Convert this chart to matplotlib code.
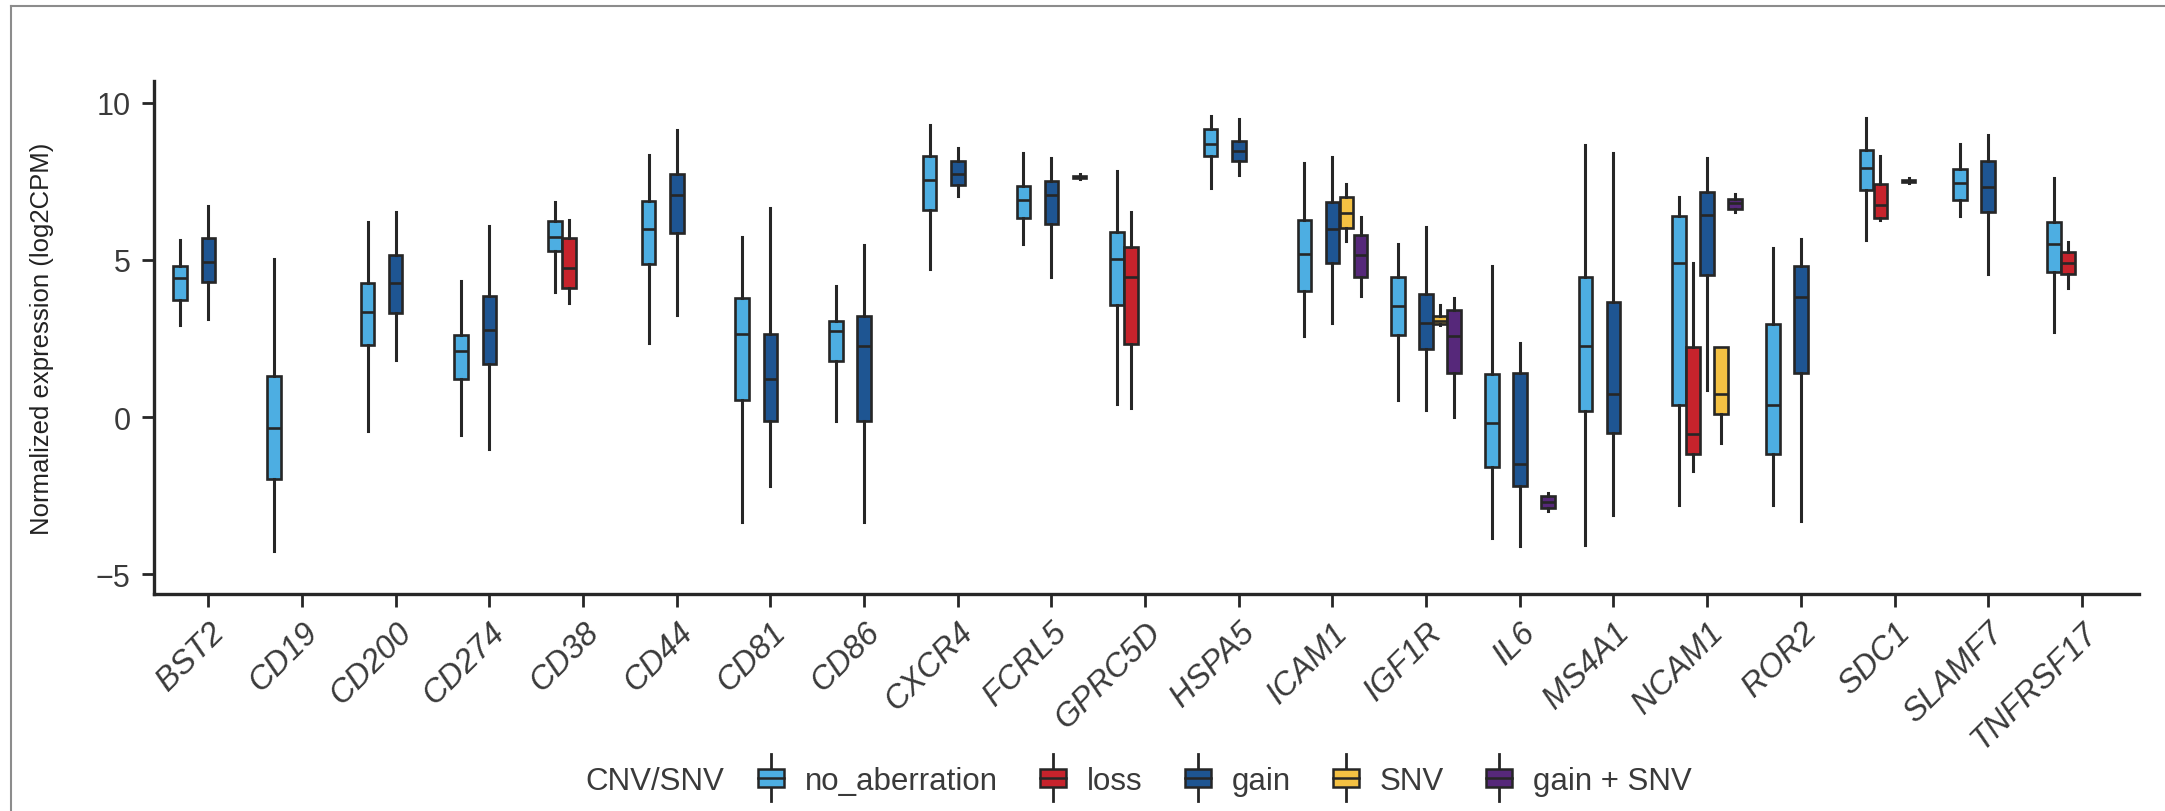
import numpy as np
import matplotlib
matplotlib.use("Agg")
import matplotlib.pyplot as plt
from matplotlib.patches import Patch, Rectangle
from matplotlib.lines import Line2D
from matplotlib.legend_handler import HandlerBase

genes = ["BST2", "CD19", "CD200", "CD274", "CD38", "CD44", "CD81", "CD86",
         "CXCR4", "FCRL5", "GPRC5D", "HSPA5", "ICAM1", "IGF1R", "IL6",
         "MS4A1", "NCAM1", "ROR2", "SDC1", "SLAMF7", "TNFRSF17"]
groups = ["no_aberration", "loss", "gain", "SNV", "gain + SNV"]
group_colors = ["#4DAEE2", "#C7232C", "#1E5592", "#F4C143", "#56287A"]

# one entry per box (gene, group) + five-number summary
box_gene = ["BST2", "BST2", "CD19", "CD200", "CD200", "CD274", "CD274",
            "CD38", "CD38", "CD44", "CD44", "CD81", "CD81", "CD86", "CD86",
            "CXCR4", "CXCR4", "FCRL5", "FCRL5", "FCRL5", "GPRC5D", "GPRC5D",
            "HSPA5", "HSPA5", "ICAM1", "ICAM1", "ICAM1", "ICAM1",
            "IGF1R", "IGF1R", "IGF1R", "IGF1R", "IL6", "IL6", "IL6",
            "MS4A1", "MS4A1", "NCAM1", "NCAM1", "NCAM1", "NCAM1", "NCAM1",
            "ROR2", "ROR2", "SDC1", "SDC1", "SDC1", "SLAMF7", "SLAMF7",
            "TNFRSF17", "TNFRSF17"]
box_group = ["no_aberration", "gain", "no_aberration", "no_aberration", "gain",
             "no_aberration", "gain", "no_aberration", "loss",
             "no_aberration", "gain", "no_aberration", "gain",
             "no_aberration", "gain", "no_aberration", "gain",
             "no_aberration", "gain", "gain + SNV", "no_aberration", "loss",
             "no_aberration", "gain", "no_aberration", "gain", "SNV", "gain + SNV",
             "no_aberration", "gain", "SNV", "gain + SNV",
             "no_aberration", "gain", "gain + SNV", "no_aberration", "gain",
             "no_aberration", "loss", "gain", "SNV", "gain + SNV",
             "no_aberration", "gain", "no_aberration", "loss", "SNV",
             "no_aberration", "gain", "no_aberration", "loss"]
whis_lo = [2.93, 3.13, -4.25, -0.44, 1.82, -0.57, -1.01, 3.99, 3.64, 2.34, 3.25,
           -3.34, -2.18, -0.14, -3.34, 4.72, 7.03, 5.49, 4.44, 7.58, 0.40, 0.30,
           7.28, 7.69, 2.57, 2.99, 5.60, 3.84, 0.55, 0.23, 2.93, 0.00,
           -3.86, -4.09, -2.98, -4.06, -3.13, -2.81, -1.73, 0.86, -0.84, 6.51,
           -2.81, -3.30, 5.63, 6.26, 7.44, 6.40, 4.56, 2.70, 4.10]
q1 = [3.73, 4.30, -1.98, 2.28, 3.32, 1.20, 1.70, 5.28, 4.09, 4.86, 5.85,
      0.55, -0.14, 1.77, -0.14, 6.60, 7.39, 6.32, 6.15, 7.62, 3.56, 2.31,
      8.31, 8.13, 4.01, 4.89, 6.00, 4.47, 2.61, 2.16, 2.95, 1.40,
      -1.59, -2.18, -2.89, 0.20, -0.51, 0.38, -1.18, 4.51, 0.11, 6.63,
      -1.18, 1.40, 7.23, 6.34, 7.48, 6.90, 6.51, 4.60, 4.55]
med = [4.41, 4.94, -0.36, 3.35, 4.26, 2.10, 2.78, 5.72, 4.75, 5.99, 7.05,
       2.65, 1.20, 2.74, 2.25, 7.53, 7.73, 6.89, 7.05, 7.65, 5.02, 4.47,
       8.67, 8.47, 5.20, 5.97, 6.49, 5.17, 3.53, 2.99, 3.07, 2.57,
       -0.19, -1.48, -2.69, 2.25, 0.74, 4.90, -0.53, 6.42, 0.72, 6.80,
       0.38, 3.81, 7.93, 6.76, 7.51, 7.44, 7.33, 5.51, 4.90]
q3 = [4.81, 5.68, 1.32, 4.27, 5.15, 2.61, 3.84, 6.25, 5.68, 6.88, 7.73,
      3.78, 2.63, 3.07, 3.22, 8.30, 8.16, 7.36, 7.52, 7.68, 5.89, 5.41,
      9.16, 8.77, 6.26, 6.85, 6.99, 5.80, 4.47, 3.92, 3.22, 3.39,
      1.38, 1.40, -2.52, 4.47, 3.67, 6.39, 2.22, 7.17, 2.23, 6.93,
      2.97, 4.81, 8.48, 7.40, 7.55, 7.88, 8.14, 6.19, 5.26]
whis_hi = [5.64, 6.72, 5.03, 6.19, 6.53, 4.34, 6.09, 6.85, 6.26, 8.35, 9.13,
           5.74, 6.66, 4.17, 5.47, 9.30, 8.57, 8.41, 8.25, 7.72, 7.84, 6.51,
           9.58, 9.49, 8.08, 8.27, 7.42, 6.36, 5.49, 6.03, 3.56, 3.78,
           4.81, 2.36, -2.41, 8.64, 8.39, 6.99, 4.89, 8.24, 2.23, 7.08,
           5.38, 5.66, 9.52, 8.31, 7.59, 8.67, 8.98, 7.59, 5.58]

y_ticks = [-5, 0, 5, 10]

edge = "#262626"
text_col = "#3a3a3a"
W, H = 2165, 812
fig = plt.figure(figsize=(W / 100, H / 100), dpi=100, facecolor="white")
ax = fig.add_axes([154 / W, 1 - 595 / H, (2139 - 154) / W, (595 - 82) / H])

dodge = 0.75
box_w = dodge / len(groups)
offsets = (np.arange(len(groups)) - (len(groups) - 1) / 2) * box_w

for gi, grp in enumerate(groups):
    stats, pos = [], []
    for k in range(len(box_gene)):
        if box_group[k] != grp:
            continue
        stats.append(dict(whislo=whis_lo[k], q1=q1[k], med=med[k],
                          q3=q3[k], whishi=whis_hi[k]))
        pos.append(genes.index(box_gene[k]) + offsets[gi])
    if not stats:
        continue
    ax.bxp(stats, positions=pos, widths=box_w * 0.97, patch_artist=True,
           showfliers=False, showcaps=False, manage_ticks=False,
           boxprops=dict(facecolor=group_colors[gi], edgecolor=edge, linewidth=1.9),
           whiskerprops=dict(color=edge, linewidth=2.2),
           medianprops=dict(color=edge, linewidth=1.9))

ax.set_xlim(-0.58, len(genes) - 1 + 0.61)
ax.set_ylim(-5.63, 10.69)
ax.set_yticks(y_ticks)
ax.set_xticks(range(len(genes)))
ax.set_xticklabels(genes, rotation=45, ha="right", va="top",
                   rotation_mode="anchor", style="italic",
                   fontsize=23.5, color=text_col, family="Liberation Sans")
for lab in ax.get_yticklabels():
    lab.set_family("Liberation Sans")
ax.tick_params(axis="y", labelsize=22, labelcolor=text_col, length=9, width=2,
               color=edge, pad=8)
ax.tick_params(axis="x", length=9, width=2, color=edge, pad=7)
for s in ["top", "right"]:
    ax.spines[s].set_visible(False)
for s in ["left", "bottom"]:
    ax.spines[s].set_linewidth(2.4)
    ax.spines[s].set_color(edge)

ax.set_ylabel("Normalized expression (log2CPM)", fontsize=18.5,
              family="Liberation Sans", color="#222222")
ax.yaxis.set_label_coords(54 / W, 1 - 338.5 / H, transform=fig.transFigure)


class HandlerBox(HandlerBase):
    # small boxplot glyph for the legend keys
    def create_artists(self, legend, orig_handle, xdescent, ydescent,
                       width, height, fontsize, trans):
        x0, y0 = -xdescent, -ydescent
        cx = x0 + width / 2
        box = Rectangle((x0, y0), width, height,
                        facecolor=orig_handle.get_facecolor(), edgecolor=edge,
                        linewidth=1.8, transform=trans)
        mline = Line2D([x0, x0 + width], [y0 + height / 2] * 2,
                       color=edge, linewidth=1.8, transform=trans)
        w1 = Line2D([cx, cx], [y0 - height * 0.75, y0], color=edge,
                    linewidth=2, transform=trans)
        w2 = Line2D([cx, cx], [y0 + height, y0 + height * 1.75], color=edge,
                    linewidth=2, transform=trans)
        return [w1, w2, box, mline]


handles = [Patch(facecolor=c, label=g) for g, c in zip(groups, group_colors)]
leg = fig.legend(handles=handles, loc="center left",
                 bbox_to_anchor=(758 / W, 1 - 782 / H), ncol=len(groups),
                 frameon=False, handler_map={Patch: HandlerBox()},
                 handlelength=0.83, handleheight=0.55, handletextpad=0.67,
                 columnspacing=1.35, borderpad=0, borderaxespad=0,
                 prop=dict(family="Liberation Sans", size=22.5))
for t in leg.get_texts():
    t.set_color(text_col)
fig.text(585 / W, 1 - 782 / H, "CNV/SNV", fontsize=22.5, family="Liberation Sans",
         color=text_col, va="center", ha="left")

# thin frame around the panel (top and left edges)
fig.add_artist(Line2D([11 / W, 1], [1 - 7 / H, 1 - 7 / H], color="#8c8c8c",
                      linewidth=1.5, transform=fig.transFigure))
fig.add_artist(Line2D([11 / W, 11 / W], [0, 1 - 7 / H], color="#8c8c8c",
                      linewidth=1.5, transform=fig.transFigure))

fig.savefig("out.png", dpi=100, facecolor="white")
